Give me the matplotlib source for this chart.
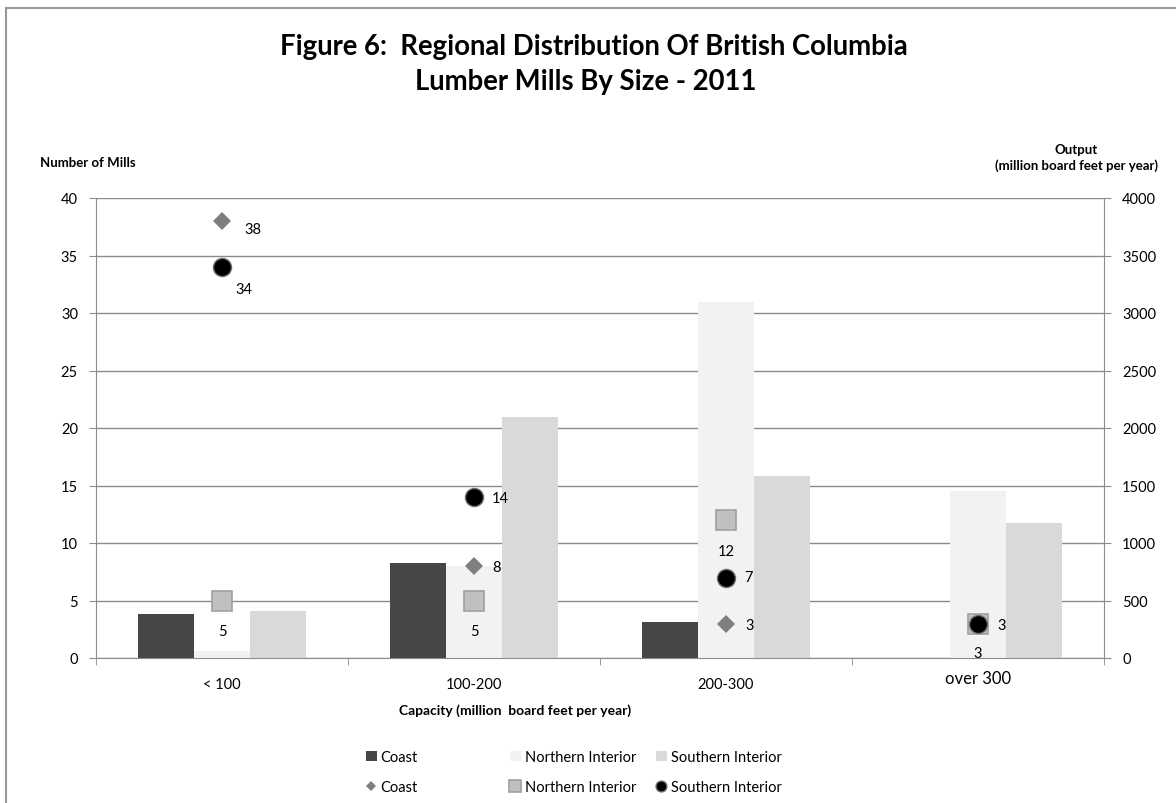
import matplotlib

matplotlib.use("Agg")
import matplotlib.pyplot as plt
from matplotlib.lines import Line2D
from matplotlib.patches import Patch
from matplotlib.transforms import ScaledTranslation

plt.rcParams["font.family"] = ["Lato", "DejaVu Sans"]

categories = ["< 100", "100-200", "200-300", "over 300"]
regions = ["Coast", "Northern Interior", "Southern Interior"]

# output by region (million board feet per year), right axis
output_coast = [380, 830, 310, 0]
output_north = [60, 800, 3100, 1450]
output_south = [410, 2100, 1580, 1170]

# number of mills by region, left axis (None = no mills in class)
mills_coast = [38, 8, 3, None]
mills_north = [5, 5, 12, 3]
mills_south = [34, 14, 7, 3]

BAR_COLORS = ["#464646", "#f2f2f2", "#d9d9d9"]
GRID = "#8c8c8c"

fig = plt.figure(figsize=(11.76, 8.04), dpi=100)
W, H = 1176, 804
ax = fig.add_axes([96 / W, (H - 659) / H, 1008 / W, 460 / H])

x = list(range(len(categories)))
bw = 0.222
outputs = [output_coast, output_north, output_south]
for i, vals in enumerate(outputs):
    ax.bar([xi + (i - 1) * bw for xi in x], vals, width=bw,
           color=BAR_COLORS[i], linewidth=0, zorder=2)

ax.set_xlim(-0.5, len(categories) - 0.5)
ax.set_ylim(0, 4000)
ax.set_yticks(range(0, 4001, 500))
ax.grid(axis="y", color=GRID, linewidth=1.0, zorder=0)
ax.set_axisbelow(True)

ax.set_xticks(x)
ax.set_xticklabels(categories, fontsize=10.5)
ax.set_xticks([v - 0.5 for v in range(len(categories) + 1)], minor=True)
ax.tick_params(axis="x", which="major", length=0, pad=14)
ax.tick_params(axis="x", which="minor", length=5, color=GRID, direction="out")
last = ax.get_xticklabels()[-1]
last.set_fontsize(12)
last.set_transform(last.get_transform() + ScaledTranslation(0, 5 / 72, fig.dpi_scale_trans))

for side in ("left", "right", "bottom"):
    ax.spines[side].set_color(GRID)
ax.spines["top"].set_visible(False)

# mill counts on a twin axis, with its scale on the left
ax2 = ax.twinx()
ax2.set_ylim(0, 40)
ax2.set_yticks(range(0, 41, 5))
ax2.yaxis.tick_left()
ax2.tick_params(axis="y", length=5, color=GRID, labelsize=10.5, pad=8)
for side in ax2.spines.values():
    side.set_visible(False)

ax.yaxis.tick_right()
ax.tick_params(axis="y", length=5, color=GRID, labelsize=10.5, pad=8)

def plot_counts(vals, offsets, **style):
    for xi, v, off in zip(x, vals, offsets):
        if v is None:
            continue
        ax2.plot(xi, v, linestyle="none", zorder=3, **style)
        ax2.annotate(str(v), (xi, v), xytext=off, textcoords="offset points",
                     ha="center", va="center", fontsize=10.5, zorder=4)

diamond = dict(marker="D", markersize=9, color="#7f7f7f", markeredgewidth=0)
square = dict(marker="s", markersize=15, markerfacecolor="#c0c0c0",
              markeredgecolor="#a0a0a0", markeredgewidth=1.2)
circle = dict(marker="o", markersize=13, markerfacecolor="black",
              markeredgecolor="#6e6e6e", markeredgewidth=1)

plot_counts(mills_coast, [(22, -6), (16, -1), (17, -1), (0, 0)], **diamond)
plot_counts(mills_north, [(0, -22), (0, -22), (0, -22), (0, -21)], **square)
plot_counts(mills_south, [(16, -16), (19, -1), (16, 0), (17, -1)], **circle)

fig.text(594 / W, 1 - 47 / H, "Figure 6:  Regional Distribution Of British Columbia",
         ha="center", va="center", fontsize=19.8, fontweight="bold")
fig.text(586 / W, 1 - 82 / H, "Lumber Mills By Size - 2011",
         ha="center", va="center", fontsize=19.8, fontweight="bold")
fig.text(40 / W, 1 - 163 / H, "Number of Mills", ha="left", va="center",
         fontsize=9.5, fontweight="bold")
fig.text(1158 / W, 1 - 158 / H, "Output\n(million board feet per year)",
         ha="right", va="center", multialignment="center",
         fontsize=9.5, fontweight="bold", linespacing=1.4)
fig.text(515 / W, 1 - 711 / H, "Capacity (million  board feet per year)",
         ha="center", va="center", fontsize=10, fontweight="bold")

# legend, one column per region: bar swatch above, marker below
markers = [diamond, square, circle]
col_x = [366, 510, 656]
for i, name in enumerate(regions):
    mk = dict(markers[i])
    mk["markersize"] = mk["markersize"] * 0.6
    handles = [Patch(facecolor=BAR_COLORS[i], edgecolor="none", label=name),
               Line2D([], [], linestyle="none", label=name, **mk)]
    fig.legend(handles=handles, loc="upper left",
               bbox_to_anchor=(col_x[i] / W, 1 - 751 / H), frameon=False,
               fontsize=10.5, handlelength=0.75, handleheight=0.75,
               handletextpad=0.25, labelspacing=1.1, borderpad=0, borderaxespad=0)

# border along the top and left edge
fig.add_artist(Line2D([6 / W, 1], [1 - 9 / H, 1 - 9 / H], color="#999999", linewidth=1.5))
fig.add_artist(Line2D([6 / W, 6 / W], [0, 1 - 9 / H], color="#999999", linewidth=1.5))

fig.savefig("out.png", dpi=100)
